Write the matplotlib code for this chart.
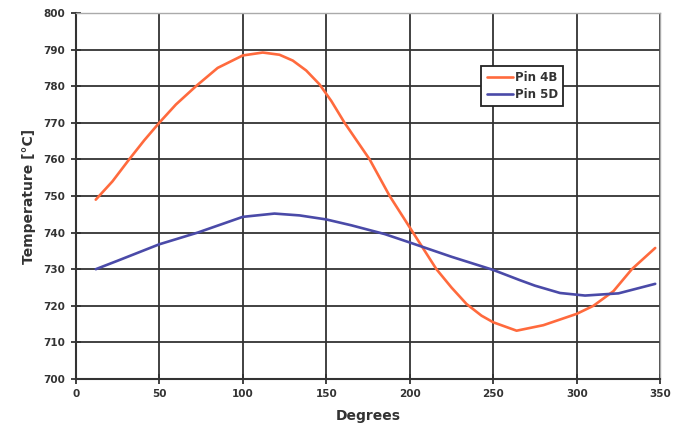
import numpy as np
import matplotlib.pyplot as plt

# Data
deg_4b = [12, 22, 32, 41, 50, 60, 72, 85, 100, 112, 122, 130, 138, 146, 153, 161, 176,
          188, 202, 216, 225, 234, 243, 250, 264, 280, 300, 310, 322, 333, 347]
temp_4b = [749, 754, 760, 765.2, 770, 775, 780, 785, 788.4, 789.2, 788.6, 787, 784.3, 780.5,
           776, 770, 760, 750, 740, 730, 725, 720.5, 717.3, 715.5, 713.2, 714.7, 717.8, 720,
           724, 730, 735.8]

deg_5d = [12, 25, 50, 73, 100, 119, 134, 150, 165, 175, 185, 200, 225, 250, 266, 275,
          290, 305, 325, 347]
temp_5d = [730, 732.3, 736.8, 740, 744.3, 745.2, 744.7, 743.6, 742.0, 740.8, 739.6, 737.3,
           733.4, 729.8, 727, 725.5, 723.5, 722.8, 723.4, 726]

xticks = np.arange(0, 351, 50)
yticks = np.arange(700, 801, 10)

text_col = '#333333'
grid_col = '#333333'

fig = plt.figure(figsize=(6.73, 4.38), dpi=100)
ax = fig.add_axes([0.1125, 0.1347, 0.8685, 0.8356])

ax.plot(deg_4b, temp_4b, color='#ff6a3d', lw=1.9, label='Pin 4B', solid_capstyle='round')
ax.plot(deg_5d, temp_5d, color='#4a4aa8', lw=1.9, label='Pin 5D', solid_capstyle='round')

ax.set_xlim(0, 350)
ax.set_ylim(700, 800)
ax.set_xticks(xticks)
ax.set_yticks(yticks)
ax.grid(True, color=grid_col, lw=1.3)
ax.set_axisbelow(True)

for s in ['left', 'bottom']:
    ax.spines[s].set_color(grid_col)
    ax.spines[s].set_linewidth(1.5)
for s in ['top', 'right']:
    ax.spines[s].set_color('#aaaaaa')
    ax.spines[s].set_linewidth(1.0)

ax.tick_params(direction='inout', length=7, width=1.3, color=grid_col,
               labelsize=7.5, labelcolor=text_col, pad=4)
for lbl in ax.get_xticklabels() + ax.get_yticklabels():
    lbl.set_fontweight('bold')

ax.set_xlabel('Degrees', fontsize=10, fontweight='bold', color=text_col, labelpad=7)
ax.set_ylabel('Temperature [°C]', fontsize=10, fontweight='bold', color=text_col, labelpad=5)

leg = ax.legend(loc='upper left', bbox_to_anchor=(0.694, 0.855), borderaxespad=0,
                fancybox=False, framealpha=1, edgecolor='#222222', fontsize=8.5,
                handlelength=2.2, borderpad=0.45, labelspacing=0.3, handletextpad=0.2)
leg.get_frame().set_linewidth(1.3)
for t in leg.get_texts():
    t.set_fontweight('bold')
    t.set_color(text_col)

plt.savefig('out.png', dpi=100)
